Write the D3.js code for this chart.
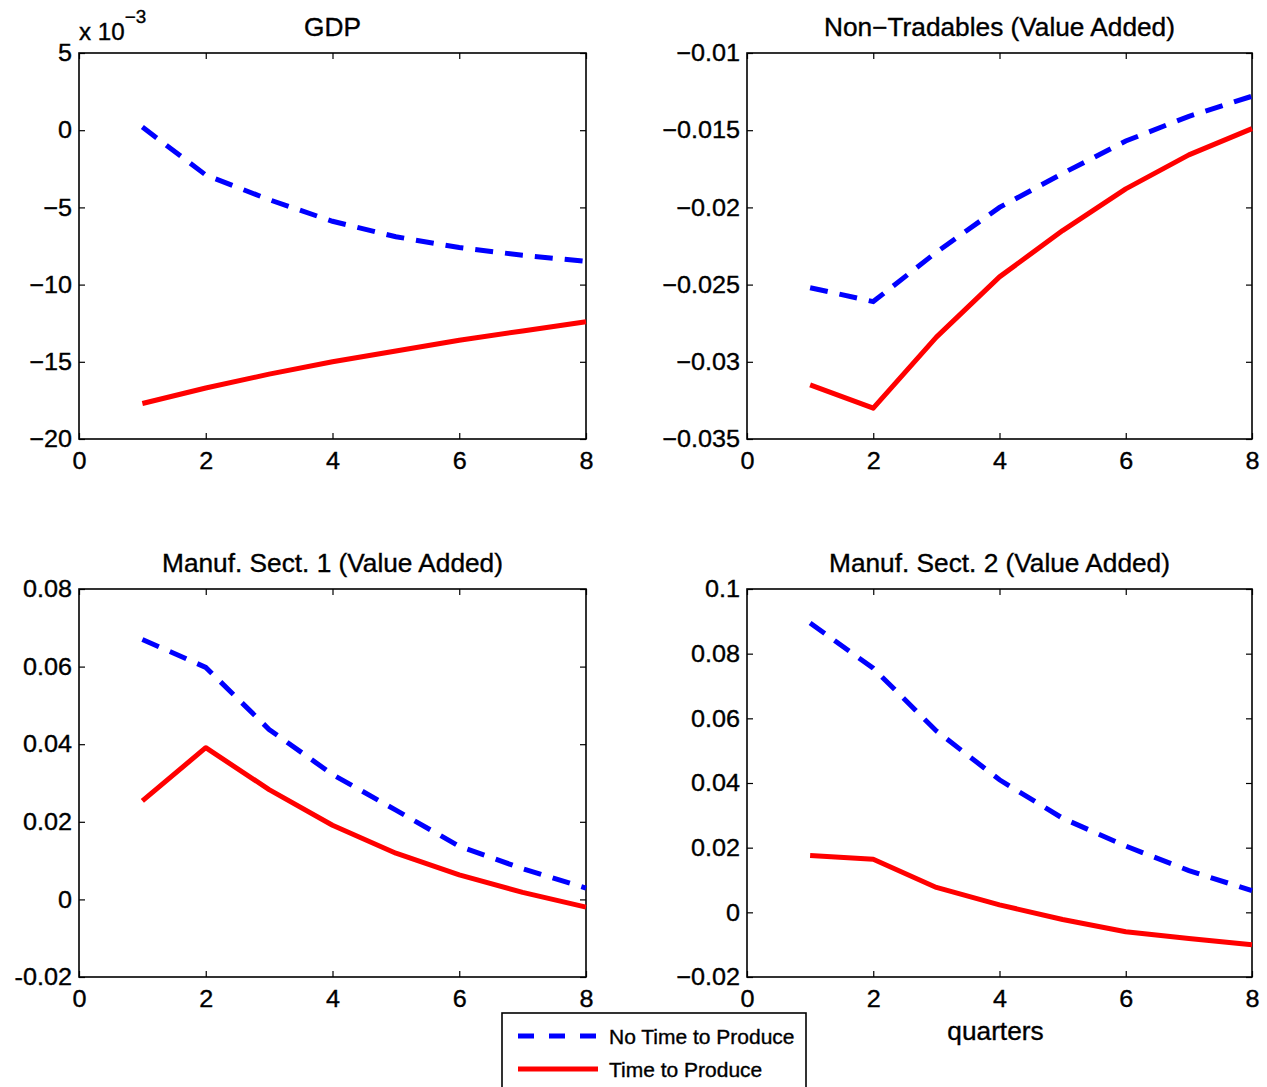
<!DOCTYPE html>
<html>
<head>
<meta charset="utf-8">
<script src="https://cdn.jsdelivr.net/npm/d3@7"></script>
<style>
  body { margin: 0; background: #fff; }
  text { font-family: "Liberation Sans", Arial, Helvetica, sans-serif; fill: #000; stroke: #000; stroke-width: 0.35px; }
</style>
</head>
<body>
<div id="chart"></div>
<script>
// quarters after the shock
const quarters = [1, 2, 3, 4, 5, 6, 7, 8];

// GDP
const gdpNoTTP = [0.0002, -0.0029, -0.0045, -0.0059, -0.0069, -0.0076, -0.0081, -0.0085];
const gdpTTP   = [-0.0177, -0.0167, -0.0158, -0.0150, -0.0143, -0.0136, -0.0130, -0.0124];
// Non-Tradables (Value Added)
const ntNoTTP = [-0.0252, -0.0261, -0.0229, -0.0200, -0.0178, -0.0157, -0.0141, -0.0128];
const ntTTP   = [-0.0315, -0.0330, -0.0284, -0.0245, -0.0215, -0.0188, -0.0166, -0.0149];
// Manuf. Sect. 1
const m1NoTTP = [0.0670, 0.0598, 0.0438, 0.0322, 0.0230, 0.0137, 0.0079, 0.0029];
const m1TTP   = [0.0254, 0.0391, 0.0283, 0.0191, 0.0119, 0.0063, 0.0018, -0.0020];
// Manuf. Sect. 2
const m2NoTTP = [0.0895, 0.0755, 0.0561, 0.0410, 0.0291, 0.0205, 0.0129, 0.0067];
const m2TTP   = [0.0176, 0.0164, 0.0077, 0.0023, -0.0022, -0.0060, -0.0081, -0.0100];

const xTicks = [0, 2, 4, 6, 8];
const gdpTicks = [0.005, 0, -0.005, -0.01, -0.015, -0.02];
const gdpLabels = ["5", "0", "\u22125", "\u221210", "\u221215", "\u221220"];
const ntTicks = [-0.01, -0.015, -0.02, -0.025, -0.03, -0.035];
const ntLabels = ["\u22120.01", "\u22120.015", "\u22120.02", "\u22120.025", "\u22120.03", "\u22120.035"];
const m1Ticks = [0.08, 0.06, 0.04, 0.02, 0, -0.02];
const m1Labels = ["0.08", "0.06", "0.04", "0.02", "0", "-0.02"];
const m2Ticks = [0.1, 0.08, 0.06, 0.04, 0.02, 0, -0.02];
const m2Labels = ["0.1", "0.08", "0.06", "0.04", "0.02", "0", "\u22120.02"];

const seriesNames = ["No Time to Produce", "Time to Produce"];

const panels = [
  {title: "GDP", noTTP: gdpNoTTP, ttp: gdpTTP, ticks: gdpTicks, labels: gdpLabels, x: 79, y: 53, w: 507, h: 386},
  {title: "Non\u2212Tradables (Value Added)", noTTP: ntNoTTP, ttp: ntTTP, ticks: ntTicks, labels: ntLabels, x: 747, y: 53, w: 505, h: 386},
  {title: "Manuf. Sect. 1 (Value Added)", noTTP: m1NoTTP, ttp: m1TTP, ticks: m1Ticks, labels: m1Labels, x: 79, y: 589, w: 507, h: 388},
  {title: "Manuf. Sect. 2 (Value Added)", noTTP: m2NoTTP, ttp: m2TTP, ticks: m2Ticks, labels: m2Labels, x: 747, y: 589, w: 505, h: 388}
];

const stretch = 1.05;
// widen text a little around its anchor point, like the original
function widen(sel) {
  sel.each(function() {
    const t = d3.select(this);
    const x = +t.attr("x") || 0;
    t.attr("transform", `translate(${x},0) scale(${stretch},1) translate(${-x},0)`);
  });
}

const svg = d3.select("#chart")
    .append("svg")
    .attr("width", 1267)
    .attr("height", 1087);

panels.forEach((p, i) => {
  const g = svg.append("g").attr("transform", `translate(${p.x},${p.y})`);

  const x = d3.scaleLinear().domain([0, 8]).range([0, p.w]);
  const y = d3.scaleLinear().domain(d3.extent(p.ticks)).range([p.h, 0]);

  // bottom axis with labels
  const xb = g.append("g")
      .attr("transform", `translate(0,${p.h})`)
      .call(d3.axisBottom(x).tickValues(xTicks).tickFormat(d3.format("d"))
        .tickSizeInner(-6).tickSizeOuter(0).tickPadding(13));
  // top ticks
  const xt = g.append("g")
      .call(d3.axisTop(x).tickValues(xTicks).tickFormat("").tickSizeInner(-6).tickSizeOuter(0));
  // left axis with labels
  const yl = g.append("g")
      .call(d3.axisLeft(y).tickValues(p.ticks).tickFormat((d, k) => p.labels[k])
        .tickSizeInner(-6).tickSizeOuter(0).tickPadding(7));
  // right ticks
  const yr = g.append("g")
      .attr("transform", `translate(${p.w},0)`)
      .call(d3.axisRight(y).tickValues(p.ticks).tickFormat("").tickSizeInner(-6).tickSizeOuter(0));

  [xb, xt, yl, yr].forEach(a => {
    a.attr("font-family", null).attr("font-size", null);
    a.select(".domain").remove();
    a.selectAll("line").attr("stroke", "#000").attr("stroke-width", 1.2);
    a.selectAll("text").attr("font-size", 24).attr("fill", "#000");
  });
  widen(xb.selectAll("text"));
  widen(yl.selectAll("text"));

  g.append("rect")
      .attr("width", p.w).attr("height", p.h)
      .attr("fill", "none").attr("stroke", "#000").attr("stroke-width", 1.6);

  const line = d3.line().x((d, k) => x(quarters[k])).y(d => y(d));

  g.append("path")
      .datum(p.ttp)
      .attr("d", line)
      .attr("fill", "none")
      .attr("stroke", "#ff0000")
      .attr("stroke-width", 5)
      .attr("stroke-linejoin", "round");

  g.append("path")
      .datum(p.noTTP)
      .attr("d", line)
      .attr("fill", "none")
      .attr("stroke", "#0000ff")
      .attr("stroke-width", 5)
      .attr("stroke-dasharray", "18,12");

  const title = g.append("text")
      .attr("x", p.w / 2)
      .attr("y", -17)
      .attr("text-anchor", "middle")
      .attr("font-size", 25)
      .text(p.title);
  widen(title);

  if (i === 0) {
    const ex = g.append("text")
        .attr("x", 0)
        .attr("y", -13)
        .attr("font-size", 23);
    ex.append("tspan").text("x 10");
    ex.append("tspan").attr("dy", -17).attr("font-size", 18).text("\u22123");
    widen(ex);
  }
  if (i === 3) {
    const xl = g.append("text")
        .attr("x", p.w / 2 - 4)
        .attr("y", p.h + 63)
        .attr("text-anchor", "middle")
        .attr("font-size", 25)
        .text("quarters");
    widen(xl);
  }
});

// legend
const legend = svg.append("g").attr("transform", "translate(502,1013)");
legend.append("rect")
    .attr("width", 304).attr("height", 90)
    .attr("fill", "#fff").attr("stroke", "#000").attr("stroke-width", 1.6);

const legendItems = [
  {name: seriesNames[0], color: "#0000ff", dash: "16,15"},
  {name: seriesNames[1], color: "#ff0000", dash: null}
];
legendItems.forEach((d, k) => {
  const yy = 23 + k * 33;
  legend.append("line")
      .attr("x1", 16).attr("x2", 96)
      .attr("y1", yy).attr("y2", yy)
      .attr("stroke", d.color)
      .attr("stroke-width", 5)
      .attr("stroke-dasharray", d.dash);
  const t = legend.append("text")
      .attr("x", 107)
      .attr("y", yy + 8)
      .attr("font-size", 20)
      .text(d.name);
  widen(t);
});
</script>
</body>
</html>
